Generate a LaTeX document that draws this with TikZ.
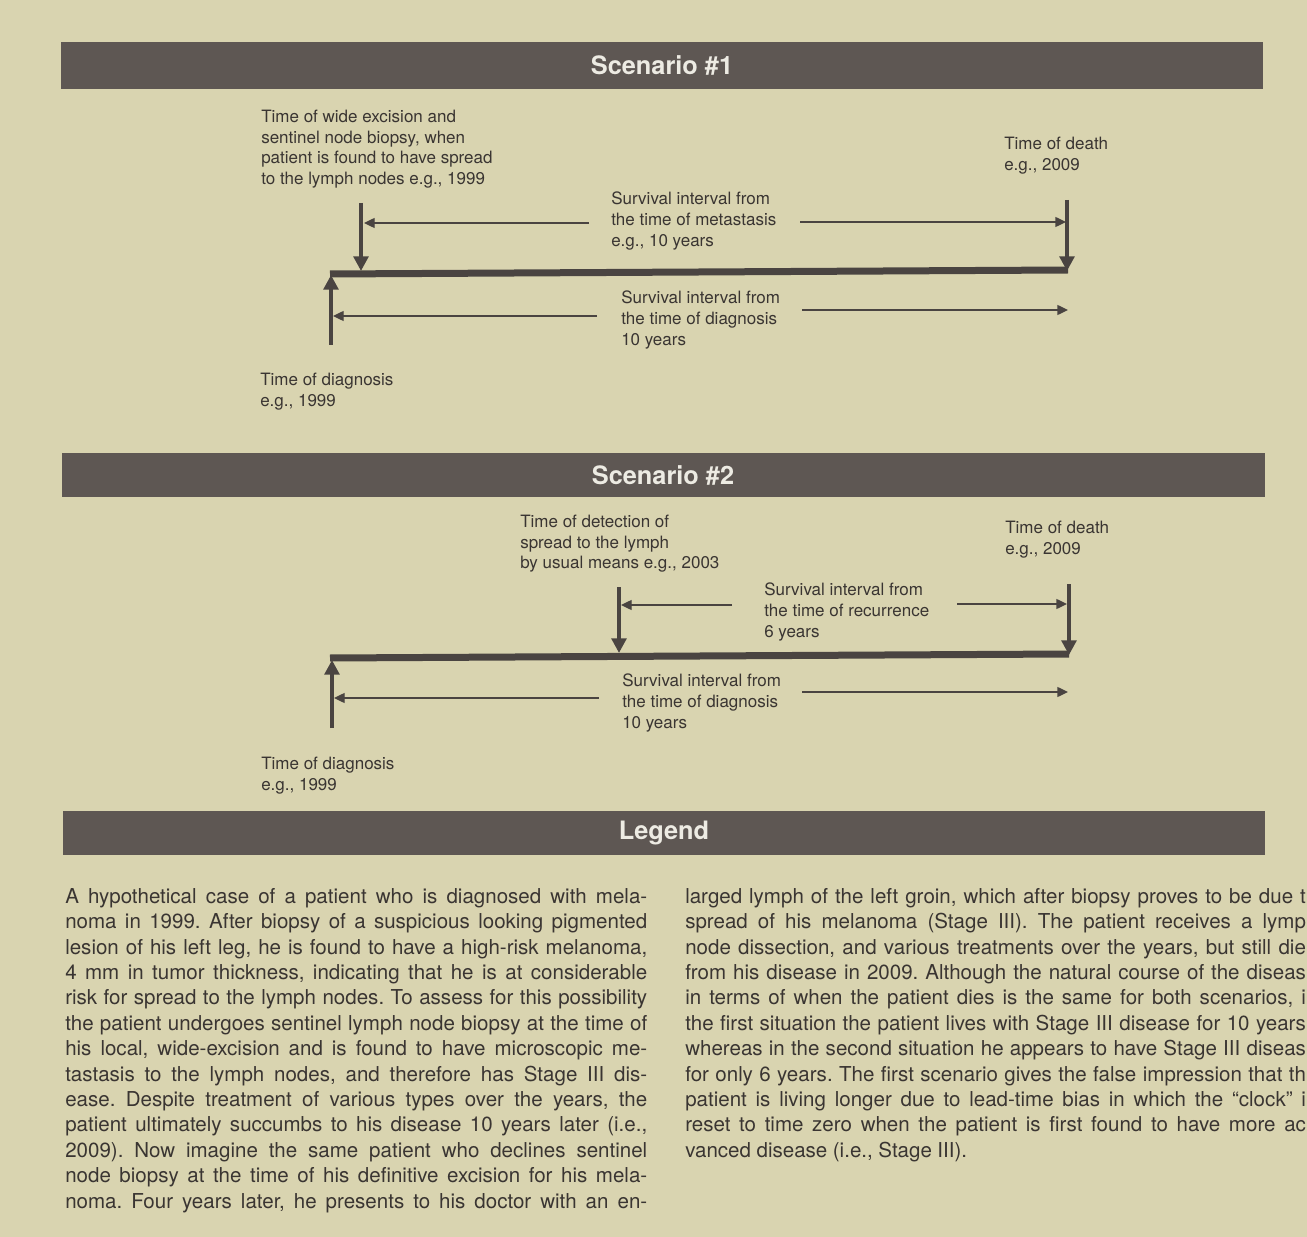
\documentclass[tikz,border=0pt]{standalone}
\usepackage{fontspec}
\setmainfont{TeX Gyre Heros}
\usetikzlibrary{arrows.meta}
\frenchspacing
\definecolor{bgc}{HTML}{D9D4B0}
\definecolor{banc}{HTML}{5E5753}
\definecolor{titc}{HTML}{EDEBE3}
\definecolor{txtc}{HTML}{3A3532}
\definecolor{linec}{HTML}{4A4441}
\newdimen\colw
\newcommand\jl[1]{\hbox to \colw{\vphantom{A}#1}}
\newcommand\bodyfnt{\fontsize{15.4}{19.05}\selectfont\frenchspacing\spaceskip=0.27em plus 0.6em minus 0.07em\relax}
\tikzset{
  banner/.style={fill=banc, draw=none},
  bantitle/.style={text=titc, font=\bfseries\fontsize{19}{22}\selectfont, inner sep=0pt},
  lbl/.style={anchor=north west, inner sep=0pt, align=left, text=txtc, font=\fontsize{12.75}{15.4}\selectfont},
  timeline/.style={draw=linec, line width=5.25pt},
  shaft/.style={draw=linec, line width=3pt, -{Triangle[width=11pt,length=11pt]}},
  thin/.style={draw=linec, line width=1pt, -{Triangle[width=7.5pt,length=8pt]}},
  bodytxt/.style={anchor=north west, inner sep=0pt, text=txtc, font=\bodyfnt}
}
\begin{document}
\begin{tikzpicture}[x=0.75pt,y=-0.75pt]
\fill[bgc] (0,0) rectangle (1307,1237);
\useasboundingbox (0,0) rectangle (1307,1237);
% banners
\fill[banner] (61,42) rectangle (1263,89);
\node[bantitle] (t1) at (662,65) {Scenario \#1};
\fill[banner] (62,453) rectangle (1265,497);
\node[bantitle] (t2) at (663,475) {Scenario \#2};
\fill[banner] (63,811) rectangle (1265,855);
\node[bantitle] (t3) at (664,833) {Legend};

% ---------- Scenario 1 ----------
\coordinate (s1L) at (330,274);
\coordinate (s1R) at (1068,270);
\draw[timeline] (s1L) -- (s1R);
\coordinate (s1dTop) at (361,203);
\coordinate (s1dTip) at (361,271);
\draw[shaft] (s1dTop) -- (s1dTip);
\coordinate (s1uBot) at (331,345);
\coordinate (s1uTip) at (331,275);
\draw[shaft] (s1uBot) -- (s1uTip);
\coordinate (s1rTop) at (1067,200);
\coordinate (s1rTip) at (1067,271);
\draw[shaft] (s1rTop) -- (s1rTip);
\coordinate (s1a1) at (589,223);
\coordinate (s1a1t) at (364,223);
\draw[thin] (s1a1) -- (s1a1t);
\coordinate (s1a2) at (800,222);
\coordinate (s1a2t) at (1066,222);
\draw[thin] (s1a2) -- (s1a2t);
\coordinate (s1b1) at (597,316);
\coordinate (s1b1t) at (333,316);
\draw[thin] (s1b1) -- (s1b1t);
\coordinate (s1b2) at (802,310);
\coordinate (s1b2t) at (1068,310);
\draw[thin] (s1b2) -- (s1b2t);

\node[lbl] (l1a) at (261,110) {Time of wide excision and\\sentinel node biopsy, when\\patient is found to have spread\\to the lymph nodes e.g., 1999};
\node[lbl] (l1b) at (1004,137) {Time of death\\e.g., 2009};
\node[lbl] (l1c) at (611,192) {Survival interval from\\the time of metastasis\\e.g., 10 years};
\node[lbl] (l1d) at (621,291) {Survival interval from\\the time of diagnosis\\10 years};
\node[lbl] (l1e) at (260,373) {Time of diagnosis\\e.g., 1999};

% ---------- Scenario 2 ----------
\coordinate (s2L) at (330,658);
\coordinate (s2R) at (1069,654);
\draw[timeline] (s2L) -- (s2R);
\coordinate (s2dTop) at (619,587);
\coordinate (s2dTip) at (619,653);
\draw[shaft] (s2dTop) -- (s2dTip);
\coordinate (s2uBot) at (332,728);
\coordinate (s2uTip) at (332,660);
\draw[shaft] (s2uBot) -- (s2uTip);
\coordinate (s2rTop) at (1069,584);
\coordinate (s2rTip) at (1069,655);
\draw[shaft] (s2rTop) -- (s2rTip);
\coordinate (s2a1) at (732,605);
\coordinate (s2a1t) at (621,605);
\draw[thin] (s2a1) -- (s2a1t);
\coordinate (s2a2) at (957,604);
\coordinate (s2a2t) at (1067,604);
\draw[thin] (s2a2) -- (s2a2t);
\coordinate (s2b1) at (599,698);
\coordinate (s2b1t) at (334,698);
\draw[thin] (s2b1) -- (s2b1t);
\coordinate (s2b2) at (802,692);
\coordinate (s2b2t) at (1068,692);
\draw[thin] (s2b2) -- (s2b2t);

\node[lbl] (l2a) at (520,515) {Time of detection of\\spread to the lymph\\by usual means e.g., 2003};
\node[lbl] (l2b) at (1005,521) {Time of death\\e.g., 2009};
\node[lbl] (l2c) at (764,583) {Survival interval from\\the time of recurrence\\6 years};
\node[lbl] (l2d) at (622,674) {Survival interval from\\the time of diagnosis\\10 years};
\node[lbl] (l2e) at (261,757) {Time of diagnosis\\e.g., 1999};

% ---------- Legend text ----------
\node[bodytxt] (colL) at (65,888) {\vbox{\bodyfnt\colw=436.5pt\baselineskip=19.05pt\lineskiplimit=-10pt
\jl{A hypothetical case of a patient who is diagnosed with mela-}
\jl{noma in 1999. After biopsy of a suspicious looking pigmented}
\jl{lesion of his left leg, he is found to have a high-risk melanoma,}
\jl{4 mm in tumor thickness, indicating that he is at considerable}
\jl{risk for spread to the lymph nodes. To assess for this possibility}
\jl{the patient undergoes sentinel lymph node biopsy at the time of}
\jl{his local, wide-excision and is found to have microscopic me-}
\jl{tastasis to the lymph nodes, and therefore has Stage III dis-}
\jl{ease. Despite treatment of various types over the years, the}
\jl{patient ultimately succumbs to his disease 10 years later (i.e.,}
\jl{2009). Now imagine the same patient who declines sentinel}
\jl{node biopsy at the time of his definitive excision for his mela-}
\jl{noma. Four years later, he presents to his doctor with an en-}
}};
\node[bodytxt] (colR) at (685,888) {\vbox{\bodyfnt\colw=465.5pt\baselineskip=19.05pt\lineskiplimit=-10pt
\jl{larged lymph of the left groin, which after biopsy proves to be due t}
\jl{spread of his melanoma (Stage III). The patient receives a lymp}
\jl{node dissection, and various treatments over the years, but still die}
\jl{from his disease in 2009. Although the natural course of the diseas}
\jl{in terms of when the patient dies is the same for both scenarios, i}
\jl{the first situation the patient lives with Stage III disease for 10 years}
\jl{whereas in the second situation he appears to have Stage III diseas}
\jl{for only 6 years. The first scenario gives the false impression that th}
\jl{patient is living longer due to lead-time bias in which the “clock” i}
\jl{reset to time zero when the patient is first found to have more ac}
\hbox{\vphantom{A}vanced disease (i.e., Stage III).}
}};
\end{tikzpicture}
\end{document}
